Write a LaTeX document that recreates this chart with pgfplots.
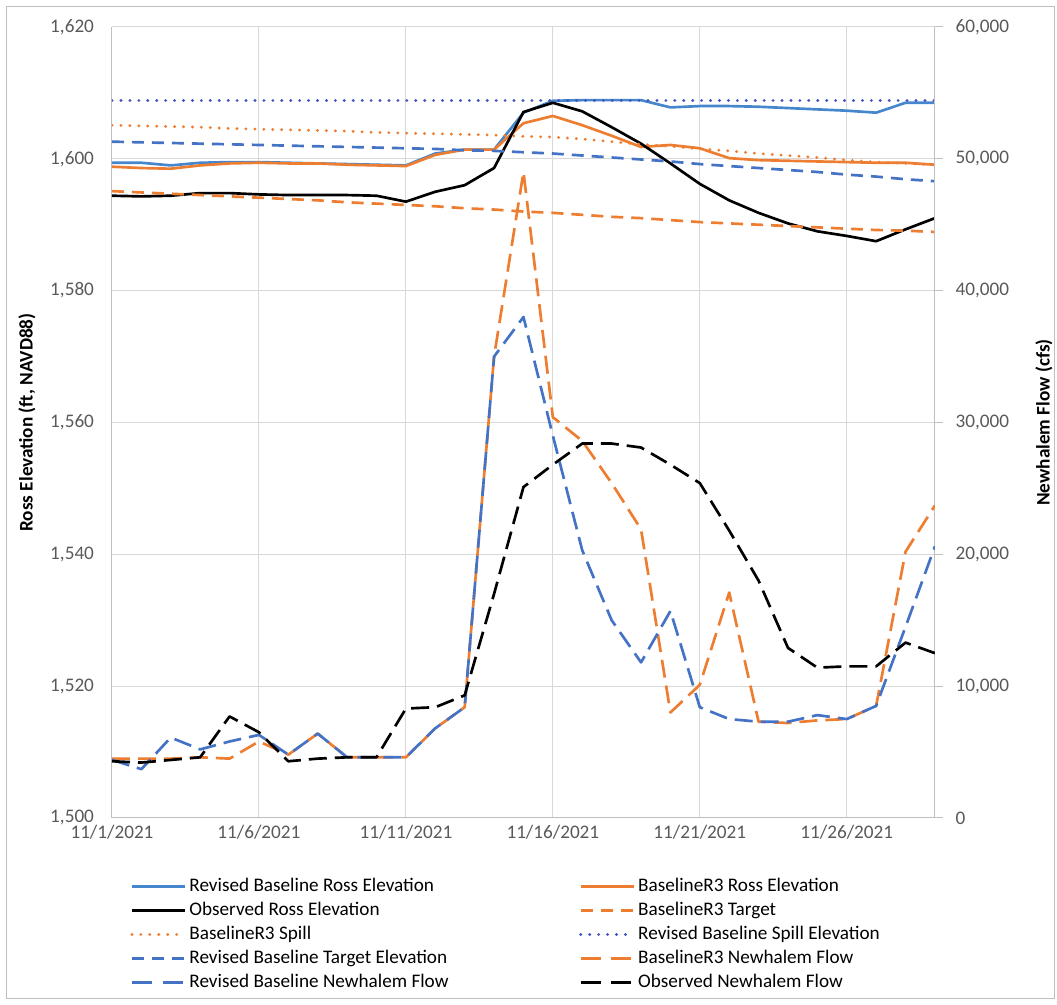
\documentclass[border=0pt]{standalone}
\usepackage{fontspec}
\setmainfont{Carlito}
\usepackage{pgfplots}
\usepackage{pgfplotstable}
\pgfplotsset{compat=1.18}
\definecolor{cblue}{RGB}{70,134,204}
\definecolor{cblue2}{RGB}{68,114,196}
\definecolor{cdot}{RGB}{64,84,196}
\definecolor{corange}{RGB}{237,125,49}
\definecolor{ctick}{RGB}{89,89,89}
\definecolor{cgrid}{RGB}{217,217,217}
\newcommand{\tickfont}{\fontsize{14.4}{17}\selectfont}
\newcommand{\labfont}{\bfseries\fontsize{14.4}{17}\selectfont}

\pgfplotstableread{
day revel  r3el   obsel  r3tgt  r3spill revtgt revspill
0   1599.4 1598.8 1594.4 1595.1 1605.1 1602.6 1608.9
1   1599.4 1598.6 1594.3 1594.9 1605.0 1602.5 1608.9
2   1599.0 1598.5 1594.4 1594.7 1604.9 1602.4 1608.9
3   1599.4 1599.0 1594.8 1594.5 1604.8 1602.3 1608.9
4   1599.5 1599.3 1594.8 1594.3 1604.6 1602.2 1608.9
5   1599.5 1599.4 1594.6 1594.1 1604.5 1602.1 1608.9
6   1599.4 1599.3 1594.5 1593.9 1604.4 1602.0 1608.9
7   1599.3 1599.3 1594.5 1593.7 1604.3 1601.9 1608.9
8   1599.2 1599.1 1594.5 1593.4 1604.2 1601.8 1608.9
9   1599.1 1599.0 1594.4 1593.2 1604.0 1601.7 1608.9
10  1599.0 1598.9 1593.5 1593.0 1603.9 1601.6 1608.9
11  1600.8 1600.6 1595.0 1592.8 1603.8 1601.5 1608.9
12  1601.4 1601.4 1596.0 1592.5 1603.7 1601.3 1608.9
13  1601.4 1601.4 1598.6 1592.3 1603.6 1601.2 1608.9
14  1607.0 1605.4 1607.1 1592.0 1603.4 1601.0 1608.9
15  1608.8 1606.5 1608.5 1591.8 1603.3 1600.8 1608.9
16  1608.9 1605.1 1607.2 1591.5 1603.0 1600.5 1608.9
17  1608.9 1603.5 1604.8 1591.2 1602.6 1600.2 1608.9
18  1608.9 1601.8 1602.3 1591.0 1602.2 1599.9 1608.9
19  1607.8 1602.1 1599.3 1590.7 1601.9 1599.6 1608.9
20  1608.0 1601.6 1596.2 1590.4 1601.5 1599.2 1608.9
21  1608.0 1600.1 1593.7 1590.2 1601.2 1598.9 1608.9
22  1607.9 1599.8 1591.8 1590.0 1600.8 1598.6 1608.9
23  1607.7 1599.7 1590.2 1589.8 1600.5 1598.3 1608.9
24  1607.5 1599.6 1589.0 1589.6 1600.2 1598.0 1608.9
25  1607.3 1599.5 1588.3 1589.4 1599.8 1597.6 1608.9
26  1607.0 1599.4 1587.5 1589.2 1599.5 1597.3 1608.9
27  1608.5 1599.4 1589.3 1589.1 1599.3 1596.9 1608.9
28  1608.5 1599.1 1591.0 1588.9 1599.1 1596.6 1608.9
}\elev

\pgfplotstableread{
day revflow r3flow obsflow
0   4400  4500  4300
1   3700  4500  4200
2   6100  4500  4400
3   5200  4600  4600
4   5800  4500  7700
5   6300  5800  6500
6   4800  4800  4300
7   6400  6400  4500
8   4600  4600  4600
9   4600  4600  4600
10  4600  4600  8300
11  6800  6800  8400
12  8400  8400  9300
13  35000 35000 17000
14  38000 49000 25100
15  29000 30400 26800
16  20300 28600 28400
17  15000 25400 28400
18  11800 21900 28100
19  15700 8000  26800
20  8400  10100 25400
21  7500  17100 21800
22  7300  7300  18000
23  7300  7200  12900
24  7800  7400  11400
25  7500  7500  11500
26  8500  8500  11500
27  14500 20200 13300
28  20600 23700 12500
}\flow

\begin{document}
\begin{tikzpicture}
\pgfplotsset{
  every axis plot/.append style={line join=round},
  legend image code/.code={\draw[#1] (0pt,0pt) -- (40pt,0pt);},
}
\begin{axis}[name=main,
  width=617.25pt, height=593.25pt, scale only axis,
  xmin=0, xmax=28, ymin=1500, ymax=1620,
  xtick={0,5,10,15,20,25},
  xticklabels={11/1/2021,11/6/2021,11/11/2021,11/16/2021,11/21/2021,11/26/2021},
  ytick={1500,1520,1540,1560,1580,1600,1620},
  yticklabels={{1,500},{1,520},{1,540},{1,560},{1,580},{1,600},{1,620}},
  axis x line*=bottom, axis y line*=left,
  axis line style={draw=black!25, line width=0.75pt, -},
  grid=major, major grid style={draw=cgrid, line width=0.75pt},
  major tick length=0pt,
  tick label style={font=\tickfont, text=ctick},
  xticklabel style={yshift=-2pt},
  yticklabel style={xshift=-10pt},
  ylabel={Ross Elevation (ft, NAVD88)},
  ylabel style={font=\labfont, at={(axis description cs:-0.1033,0.5)}, anchor=center},
  legend columns=2,
  legend cell align=left,
  legend style={at={(axis description cs:0.022,-0.071)}, anchor=north west,
    draw=none, fill=none, inner sep=0pt, font=\tickfont,
    nodes={inner sep=2pt, text height=10.7pt, text depth=3.3pt},
    /tikz/every even column/.append style={column sep=96pt}},
]
\addplot[cblue, line width=2pt] table[x=day,y=revel]{\elev};
\addlegendentry{Revised Baseline Ross Elevation}
\addplot[corange, line width=2pt] table[x=day,y=r3el]{\elev};
\addlegendentry{BaselineR3 Ross Elevation}
\addplot[black, line width=2pt] table[x=day,y=obsel]{\elev};
\addlegendentry{Observed Ross Elevation}
\addplot[corange, line width=2pt, dash pattern=on 9pt off 6pt] table[x=day,y=r3tgt]{\elev};
\addlegendentry{BaselineR3 Target}
\addplot[corange, line width=2.3pt, line cap=round, dash pattern=on 0.1pt off 6.6pt] table[x=day,y=r3spill]{\elev};
\addlegendentry{BaselineR3 Spill}
\addplot[cdot, line width=2.3pt, line cap=round, dash pattern=on 0.1pt off 6.6pt] table[x=day,y=revspill]{\elev};
\addlegendentry{Revised Baseline Spill Elevation}
\addplot[cblue2, line width=2pt, dash pattern=on 9pt off 6pt] table[x=day,y=revtgt]{\elev};
\addlegendentry{Revised Baseline Target Elevation}
\addlegendimage{corange, line width=2pt, dash pattern=on 15pt off 8pt}
\addlegendentry{BaselineR3 Newhalem Flow}
\addlegendimage{cblue2, line width=2pt, dash pattern=on 15pt off 8pt}
\addlegendentry{Revised Baseline Newhalem Flow}
\addlegendimage{black, line width=2pt, dash pattern=on 15pt off 8pt}
\addlegendentry{Observed Newhalem Flow}
\end{axis}
\begin{axis}[
  width=617.25pt, height=593.25pt, scale only axis,
  xmin=0, xmax=28, ymin=0, ymax=60000,
  scaled y ticks=false,
  axis x line=none, axis y line*=right,
  axis line style={draw=black!25, line width=0.75pt, -},
  ytick={0,10000,20000,30000,40000,50000,60000},
  yticklabels={0,{10,000},{20,000},{30,000},{40,000},{50,000},{60,000}},
  tick align=outside, major tick length=6pt,
  ytick style={draw=black!25, line width=0.75pt},
  tick label style={font=\tickfont, text=ctick},
  yticklabel style={xshift=6pt},
  ylabel={Newhalem Flow (cfs)},
  ylabel style={font=\labfont, at={(axis description cs:1.1325,0.5)}, anchor=center},
]
\addplot[corange, line width=2pt, dash pattern=on 13.5pt off 6pt] table[x=day,y=r3flow]{\flow};
\addplot[cblue2, line width=2pt, dash pattern=on 13.5pt off 6pt] table[x=day,y=revflow]{\flow};
\addplot[black, line width=2pt, dash pattern=on 13.5pt off 6pt] table[x=day,y=obsflow]{\flow};
\end{axis}
\draw[black!25, line width=0.75pt] ([xshift=-79pt,yshift=-135.75pt]main.south west) rectangle ([xshift=707pt,yshift=608.25pt]main.south west);
\path ([xshift=-84pt,yshift=-140.25pt]main.south west) rectangle ([xshift=708.75pt,yshift=613.5pt]main.south west);
\end{tikzpicture}
\end{document}
